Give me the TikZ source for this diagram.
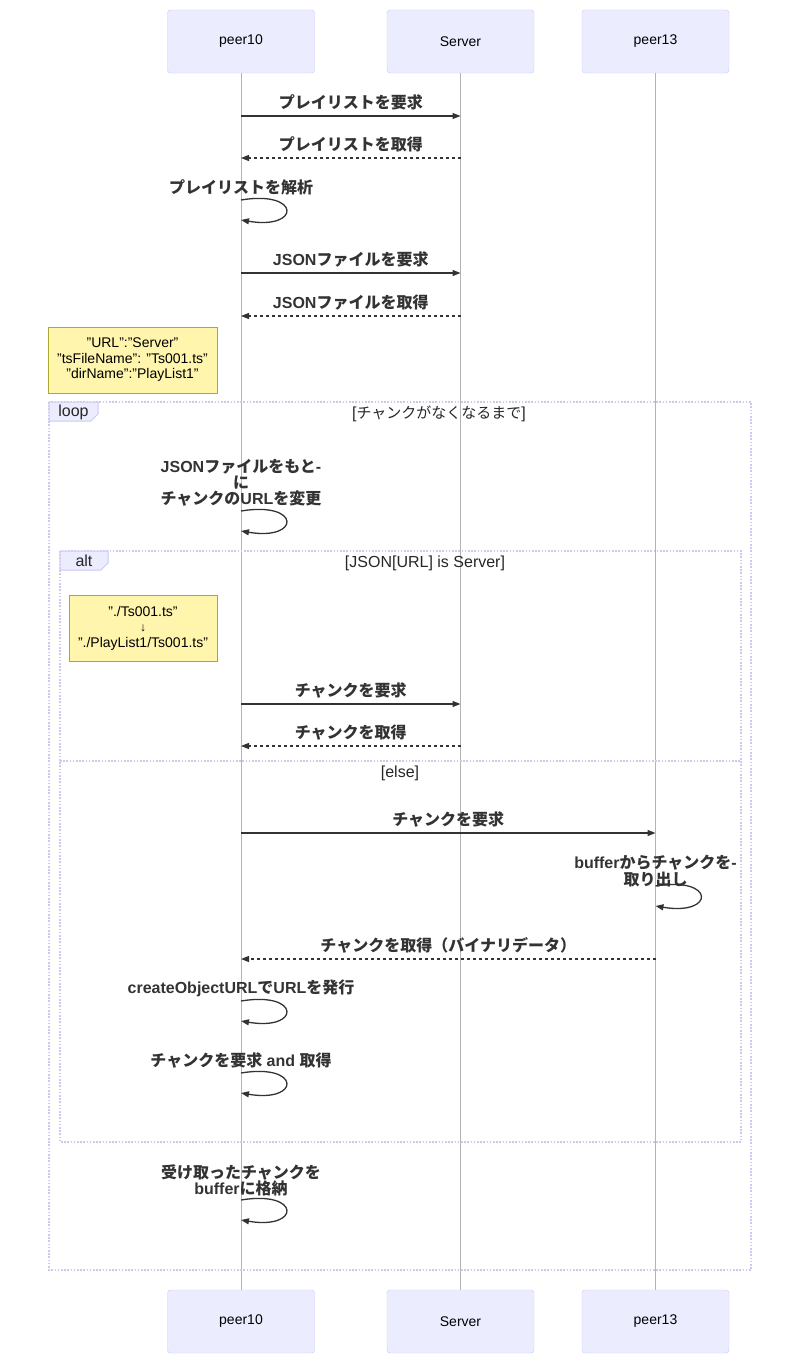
\documentclass[tikz,border=0pt]{standalone}
\usepackage{fontspec}
\setmainfont{Liberation Sans}
\newfontfamily\cjk{Noto Sans CJK JP}
\usetikzlibrary{arrows.meta, positioning, calc}

\definecolor{actfill}{HTML}{ECECFF}
\definecolor{actdraw}{HTML}{CCC8F0}
\definecolor{notefill}{HTML}{FFF5AD}
\definecolor{notedraw}{HTML}{AAAA33}
\definecolor{msgcol}{HTML}{333333}
\definecolor{lifecol}{HTML}{B4B4B4}

\newcommand\jp[1]{{\cjk #1}}
\newcommand\dq{\char34\relax}

\tikzset{
  actor/.style={draw=actdraw, fill=actfill, rounded corners=3pt, minimum width=147pt,
    minimum height=63pt, font=\fontsize{14}{16}\selectfont},
  life/.style={draw=lifecol, line width=1pt},
  msgtext/.style={font=\fontsize{16}{16}\selectfont\bfseries, text=msgcol, align=center, inner sep=0pt},
  sync/.style={draw=msgcol, line width=1.3pt, -{Triangle[length=8pt,width=6pt]}},
  reply/.style={sync, dash pattern=on 3pt off 3pt},
  note/.style={draw=notedraw, fill=notefill, font=\fontsize{14}{15.5}\selectfont, align=center,
    minimum height=66pt, inner sep=0pt},
  frame/.style={draw=actdraw, line width=1.6pt, dash pattern=on 1.6pt off 1.6pt},
  tab/.style={draw=actdraw, fill=actfill, line width=1pt},
  frametext/.style={font=\fontsize{16}{16}\selectfont, text=black!85}
}

\begin{document}
\begin{tikzpicture}[x=1pt, y=-1pt]
  \useasboundingbox (0,0) rectangle (800,1354);
  % participants
  \node[actor] (p10t) at (241,41.5) {peer10};
  \node[actor] (srvt) at (460.5,41.5) {Server};
  \node[actor] (p13t) at (655.5,41.5) {peer13};
  \node[actor] (p10b) at (241,1321.5) {peer10};
  \node[actor] (srvb) at (460.5,1321.5) {Server};
  \node[actor] (p13b) at (655.5,1321.5) {peer13};
  % lifelines
  \draw[life] (p10t.south) -- (p10b.north);
  \draw[life] (srvt.south) -- (srvb.north);
  \draw[life] (p13t.south) -- (p13b.north);

  % playlist
  \draw[sync] (p10t |- 0,116) -- (srvt |- 0,116)
    node[msgtext, midway, above=5pt] (m1) {\jp{プレイリストを要求}};
  \draw[reply] (srvt |- 0,158) -- (p10t |- 0,158)
    node[msgtext, midway, above=5pt] (m2) {\jp{プレイリストを取得}};
  \draw[sync] (p10t |- 0,200) .. controls +(60,-10) and +(60,10) .. (p10t |- 0,220)
    node[msgtext, pos=0, above=4pt] (m3) {\jp{プレイリストを解析}};
  % json file
  \draw[sync] (p10t |- 0,273) -- (srvt |- 0,273)
    node[msgtext, midway, above=5pt] (m4) {JSON\jp{ファイルを要求}};
  \draw[reply] (srvt |- 0,316) -- (p10t |- 0,316)
    node[msgtext, midway, above=5pt] (m5) {JSON\jp{ファイルを取得}};
  \node[note, minimum width=169pt] (n1) at (132.5,360)
    {\dq URL\dq:\dq Server\dq\\\dq tsFileName\dq: \dq Ts001.ts\dq\\\dq dirName\dq:\dq PlayList1\dq};

  % loop frame
  \draw[frame] (49,402) rectangle (751,1270);
  \draw[tab] (49,402) -- (98,402) -- (98,414) -- (91,421) -- (49,421) -- cycle;
  \node[frametext] (lp) at (73.5,412) {loop};
  \node[frametext] (lpt) at (439,414) {[{\fontsize{15}{16}\selectfont\jp{チャンクがなくなるまで}}]};
  \draw[sync] (p10t |- 0,511) .. controls +(60,-10) and +(60,10) .. (p10t |- 0,531)
    node[msgtext, pos=0, above=4pt] (m6)
    {JSON\jp{ファイルをもと}-\\\jp{に}\\\jp{チャンクの}URL\jp{を変更}};

  % alt frame
  \draw[frame] (60,551) rectangle (741,1142);
  \draw[tab] (60,551) -- (108,551) -- (108,563) -- (101,570) -- (60,570) -- cycle;
  \node[frametext] (al) at (84,561) {alt};
  \node[frametext] (alt1) at (425,563) {[JSON[URL] is Server]};
  \node[note, minimum width=148pt] (n2) at (143,628)
    {\dq./Ts001.ts\dq\\{\fontsize{12}{12}\selectfont ↓}\\\dq./PlayList1/Ts001.ts\dq};
  \draw[sync] (p10t |- 0,704) -- (srvt |- 0,704)
    node[msgtext, midway, above=5pt] (m7) {\jp{チャンクを要求}};
  \draw[reply] (srvt |- 0,746) -- (p10t |- 0,746)
    node[msgtext, midway, above=5pt] (m8) {\jp{チャンクを取得}};
  % else
  \draw[frame] (60,761) -- (741,761);
  \node[frametext] (alt2) at (400,773) {[else]};
  \draw[sync] (p10t |- 0,833) -- (p13t |- 0,833)
    node[msgtext, midway, above=5pt] (m9) {\jp{チャンクを要求}};
  \draw[sync] (p13t |- 0,886) .. controls +(60,-10) and +(60,10) .. (p13t |- 0,906)
    node[msgtext, pos=0, above=-2pt] (m10) {buffer\jp{からチャンクを}-\\[1pt]\jp{取り出し}};
  \draw[reply] (p13t |- 0,959) -- (p10t |- 0,959)
    node[msgtext, midway, above=5pt] (m11) {\jp{チャンクを取得（バイナリデータ）}};
  \draw[sync] (p10t |- 0,1001) .. controls +(60,-10) and +(60,10) .. (p10t |- 0,1021)
    node[msgtext, pos=0, above=4pt] (m12) {createObjectURL\jp{で}URL\jp{を発行}};
  \draw[sync] (p10t |- 0,1073) .. controls +(60,-10) and +(60,10) .. (p10t |- 0,1093)
    node[msgtext, pos=0, above=4pt] (m13) {\jp{チャンクを要求} and \jp{取得}};

  % store
  \draw[sync] (p10t |- 0,1200) .. controls +(60,-10) and +(60,10) .. (p10t |- 0,1220)
    node[msgtext, pos=0, above=3pt] (m14) {\jp{受け取ったチャンクを}\\buffer\jp{に格納}};
\end{tikzpicture}
\end{document}
